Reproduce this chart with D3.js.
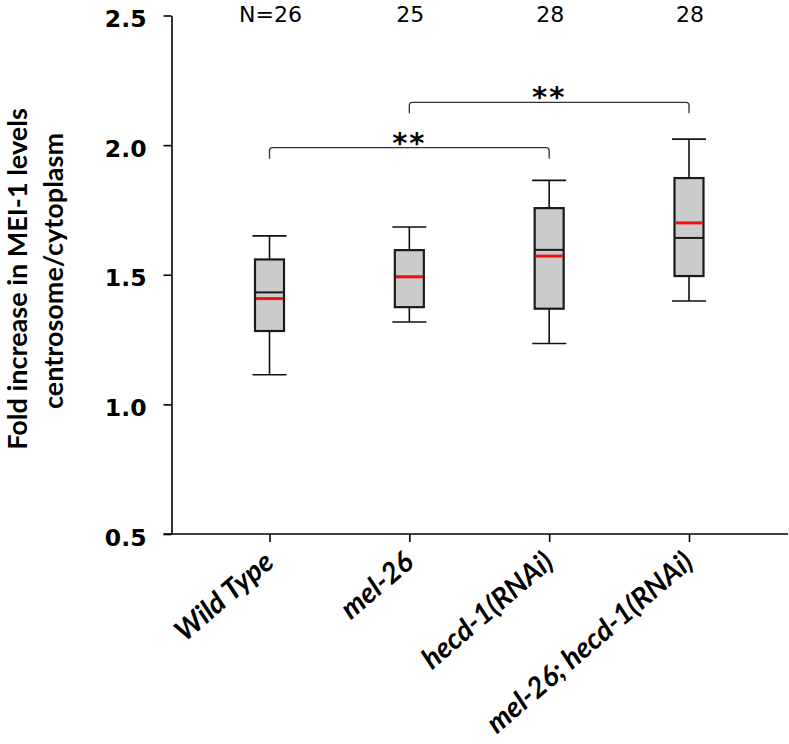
<!DOCTYPE html>
<html>
<head>
<meta charset="utf-8">
<script src="https://cdn.jsdelivr.net/npm/d3@7"></script>
<style>
  html, body { margin: 0; padding: 0; background: #fff; }
  svg { display: block; }
</style>
</head>
<body>
<svg id="chart" width="789" height="744"></svg>
<script>
// ---- data ----
const categories = ["Wild Type", "mel-26", "hecd-1(RNAi)", "mel-26; hecd-1(RNAi)"];
const nLabels = ["N=26", "25", "28", "28"];
const whiskerLow  = [1.114, 1.318, 1.235, 1.399];
const q1          = [1.283, 1.375, 1.369, 1.495];
const median      = [1.432, 1.492, 1.596, 1.642];
const mean        = [1.408, 1.492, 1.572, 1.700];
const q3          = [1.559, 1.595, 1.757, 1.873];
const whiskerHigh = [1.650, 1.684, 1.864, 2.023];
const yTicks = [0.5, 1.0, 1.5, 2.0, 2.5];
const brackets = [
  { from: "Wild Type", to: "hecd-1(RNAi)", level: 1.99, label: "**" },
  { from: "mel-26", to: "mel-26; hecd-1(RNAi)", level: 2.165, label: "**" }
];
const yTitle = ["Fold increase in MEI-1 levels", "centrosome/cytoplasm"];

// ---- layout ----
const svg = d3.select("#chart");
const axisX = 171.5, axisBottom = 534, axisTop = 15.5, axisRight = 788;

const y = d3.scaleLinear().domain([0.5, 2.5]).range([axisBottom, axisTop]);
const x = d3.scalePoint().domain(categories).range([269.5, 689]);

// y axis
const yAxis = svg.append("g")
  .attr("transform", `translate(${axisX},0)`)
  .call(d3.axisLeft(y).tickValues(yTicks).tickFormat(d3.format(".1f")).tickSize(8).tickSizeOuter(0).tickPadding(17));
yAxis.select(".domain").attr("stroke", "#000").attr("stroke-width", 1.6);
yAxis.selectAll(".tick line").attr("stroke", "#000").attr("stroke-width", 1.6);
yAxis.selectAll(".tick text")
  .attr("font-family", "'DejaVu Sans', sans-serif")
  .attr("font-weight", "bold")
  .attr("font-size", 23.5)
  .attr("dy", "0.47em")
  .attr("fill", "#000");

// x axis
const xAxis = svg.append("g")
  .attr("transform", `translate(0,${axisBottom})`)
  .call(d3.axisBottom(x).tickSize(8).tickSizeOuter(0).tickFormat(""));
xAxis.select(".domain").remove();
xAxis.append("line")
  .attr("x1", axisX - 8).attr("x2", axisRight)
  .attr("y1", 0).attr("y2", 0)
  .attr("stroke", "#000").attr("stroke-width", 1.6);
xAxis.selectAll(".tick line").attr("stroke", "#000").attr("stroke-width", 1.6);

// x labels (rotated)
svg.append("g").selectAll("text")
  .data(categories)
  .join("text")
  .attr("transform", d => `translate(${x(d) + 6},${axisBottom + 31}) rotate(-40.5)`)
  .attr("text-anchor", "end")
  .attr("font-family", "Lato, 'Open Sans', sans-serif")
  .attr("font-weight", "bold")
  .attr("font-style", "italic")
  .attr("font-size", 28.5)
  .attr("fill", "#000")
  .text(d => d);

// y label
const yl = svg.append("text")
  .attr("transform", "rotate(-90)")
  .attr("text-anchor", "middle")
  .attr("font-family", "Lato, 'Open Sans', sans-serif")
  .attr("font-weight", "bold")
  .attr("font-size", 27)
  .attr("fill", "#000");
yl.append("tspan").attr("x", -279).attr("y", 27).text(yTitle[0]);
yl.append("tspan").attr("x", -271).attr("y", 63).text(yTitle[1]);

// N labels
svg.append("g").selectAll("text")
  .data(categories)
  .join("text")
  .attr("x", d => x(d) + 1)
  .attr("y", 22)
  .attr("text-anchor", "middle")
  .attr("font-family", "'DejaVu Sans', sans-serif")
  .attr("font-size", 22)
  .attr("fill", "#000")
  .text((d, i) => nLabels[i]);

// boxes
const boxW = 29, capW = 34;
const g = svg.append("g");
categories.forEach((c, i) => {
  const cx = x(c);
  // whiskers
  g.append("line").attr("x1", cx).attr("x2", cx).attr("y1", y(whiskerHigh[i])).attr("y2", y(q3[i]))
    .attr("stroke", "#111").attr("stroke-width", 1.6);
  g.append("line").attr("x1", cx).attr("x2", cx).attr("y1", y(q1[i])).attr("y2", y(whiskerLow[i]))
    .attr("stroke", "#111").attr("stroke-width", 1.6);
  g.append("line").attr("x1", cx - capW / 2).attr("x2", cx + capW / 2).attr("y1", y(whiskerHigh[i])).attr("y2", y(whiskerHigh[i]))
    .attr("stroke", "#111").attr("stroke-width", 1.6);
  g.append("line").attr("x1", cx - capW / 2).attr("x2", cx + capW / 2).attr("y1", y(whiskerLow[i])).attr("y2", y(whiskerLow[i]))
    .attr("stroke", "#111").attr("stroke-width", 1.6);
  // box
  g.append("rect").attr("x", cx - boxW / 2).attr("width", boxW)
    .attr("y", y(q3[i])).attr("height", y(q1[i]) - y(q3[i]))
    .attr("fill", "#cbcbcb").attr("stroke", "#1a1a1a").attr("stroke-width", 2.2);
  // median
  g.append("line").attr("x1", cx - boxW / 2).attr("x2", cx + boxW / 2).attr("y1", y(median[i])).attr("y2", y(median[i]))
    .attr("stroke", "#1a1a1a").attr("stroke-width", 2);
  // mean
  g.append("line").attr("x1", cx - boxW / 2 + 1).attr("x2", cx + boxW / 2 - 1).attr("y1", y(mean[i])).attr("y2", y(mean[i]))
    .attr("stroke", "#ee1111").attr("stroke-width", 3);
});

// significance brackets
const bg = svg.append("g");
brackets.forEach(b => {
  const x1 = x(b.from), x2 = x(b.to), yy = y(b.level), drop = 11, r = 3;
  bg.append("path")
    .attr("d", `M${x1},${yy + drop} L${x1},${yy + r} Q${x1},${yy} ${x1 + r},${yy} L${x2 - r},${yy} Q${x2},${yy} ${x2},${yy + r} L${x2},${yy + drop}`)
    .attr("fill", "none").attr("stroke", "#333").attr("stroke-width", 1.3);
  bg.append("text")
    .attr("x", (x1 + x2) / 2)
    .attr("y", yy + 5)
    .attr("text-anchor", "middle")
    .attr("font-family", "'DejaVu Sans', sans-serif")
    .attr("font-weight", "bold")
    .attr("font-size", 29)
    .attr("letter-spacing", 2)
    .attr("fill", "#000")
    .text(b.label);
});
</script>
</body>
</html>
